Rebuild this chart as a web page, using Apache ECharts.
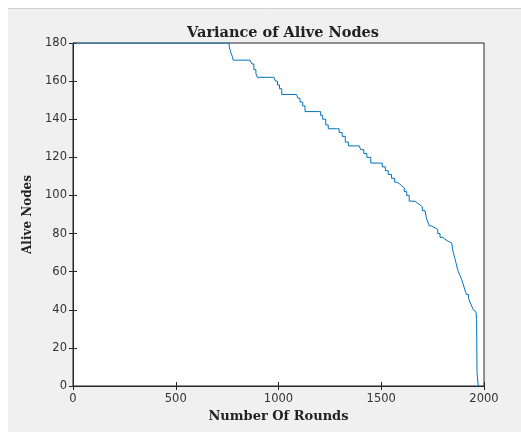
<!DOCTYPE html>
<html><head><meta charset="utf-8">
<script src="https://cdn.jsdelivr.net/npm/echarts@6/dist/echarts.min.js"></script>
<style>html,body{margin:0;padding:0;background:#fff;}#c{width:521px;height:432px;}</style>
</head><body><div id="c"></div>
<script>
// Step change points: round at which the alive-node count becomes the value
const rounds = [0, 750, 760, 768, 775, 780, 861, 870, 880, 890, 897, 978, 985, 995, 1005, 1016,
  1088, 1095, 1105, 1118, 1129, 1194, 1205, 1215, 1230, 1242, 1283, 1295, 1310, 1325, 1340,
  1393, 1400, 1415, 1430, 1449, 1494, 1505, 1520, 1534, 1550, 1565, 1575, 1590, 1600, 1612,
  1624, 1636, 1664, 1676, 1689, 1700, 1713, 1720, 1727, 1734, 1745, 1762, 1775, 1786, 1800,
  1810, 1825, 1843, 1847, 1851, 1858, 1863, 1867, 1875, 1883, 1891, 1900, 1908, 1915, 1925,
  1932, 1940, 1948, 1955, 1961, 1964, 1966, 1972];
const alive = [180, 180, 178, 175, 173, 171, 171, 169, 166, 164, 162, 162, 160, 158, 156, 153,
  153, 151, 149, 147, 144, 144, 142, 140, 137, 135, 135, 133, 131, 128, 126,
  126, 124, 122, 120, 117, 117, 115, 113, 111, 109, 107, 106, 105, 104, 102,
  100, 97, 96, 95, 94, 92, 91, 88, 86, 84, 83, 82, 80, 78, 77,
  76, 75, 74, 72, 70, 67, 65, 63, 60, 58, 56, 53, 50, 48, 46,
  44, 42, 40, 39, 38, 35, 7, 0];
const xTicks = [0, 500, 1000, 1500, 2000];
const yTicks = [0, 20, 40, 60, 80, 100, 120, 140, 160, 180];

const chart = echarts.init(document.getElementById('c'), null, {renderer: 'canvas'});
const axCol = '#262626';
const lblStyle = {color: '#333', fontFamily: 'DejaVu Sans, sans-serif', fontSize: 11.5, formatter: v => String(v)};
const nameStyle = {color: '#222', fontFamily: 'DejaVu Serif, serif', fontWeight: 'bold'};
chart.setOption({
  animation: false,
  backgroundColor: 'transparent',
  graphic: [
    {type: 'rect', shape: {x: 8, y: 9, width: 513, height: 423}, style: {fill: '#f0f0f0'}, z: -10, silent: true},
    {type: 'line', shape: {x1: 8, y1: 8.5, x2: 521, y2: 8.5}, style: {stroke: '#cfcfcf', lineWidth: 1}, z: -9, silent: true}
  ],
  title: {
    text: 'Variance of Alive Nodes', left: 278, top: 21, textAlign: 'center',
    textStyle: {color: '#222', fontFamily: 'DejaVu Serif, serif', fontWeight: 'bold', fontSize: 14.5}
  },
  grid: {left: 73, right: 37, top: 43, bottom: 46, show: true, backgroundColor: '#fff', borderColor: axCol, borderWidth: 1},
  xAxis: [
    {type: 'value', min: xTicks[0], max: xTicks[xTicks.length-1], interval: 500, position: 'bottom',
     name: 'Number Of Rounds', nameLocation: 'middle', nameGap: 22, nameTextStyle: Object.assign({fontSize: 13}, nameStyle),
     axisLine: {show: true, lineStyle: {color: axCol}}, axisTick: {show: true, inside: true, length: 4, lineStyle: {color: axCol}},
     axisLabel: Object.assign({margin: 7}, lblStyle), splitLine: {show: false}},
    {type: 'value', min: xTicks[0], max: xTicks[xTicks.length-1], interval: 500, position: 'top',
     axisLine: {show: true, lineStyle: {color: axCol}}, axisTick: {show: true, inside: true, length: 4, lineStyle: {color: axCol}},
     axisLabel: {show: false}, splitLine: {show: false}}
  ],
  yAxis: [
    {type: 'value', min: yTicks[0], max: yTicks[yTicks.length-1], interval: 20, position: 'left',
     name: 'Alive Nodes', nameLocation: 'middle', nameGap: 33, nameTextStyle: Object.assign({fontSize: 12}, nameStyle),
     axisLine: {show: true, lineStyle: {color: axCol}}, axisTick: {show: true, inside: true, length: 4, lineStyle: {color: axCol}},
     axisLabel: Object.assign({margin: 6}, lblStyle), splitLine: {show: false}},
    {type: 'value', min: yTicks[0], max: yTicks[yTicks.length-1], interval: 20, position: 'right',
     axisLine: {show: true, lineStyle: {color: axCol}}, axisTick: {show: true, inside: true, length: 4, lineStyle: {color: axCol}},
     axisLabel: {show: false}, splitLine: {show: false}}
  ],
  series: [{
    type: 'line', step: 'end', showSymbol: false, symbol: 'none', clip: true,
    data: rounds.map((r, i) => [r, alive[i]]),
    lineStyle: {color: '#0072BD', width: 1}
  }]
});
</script></body></html>
